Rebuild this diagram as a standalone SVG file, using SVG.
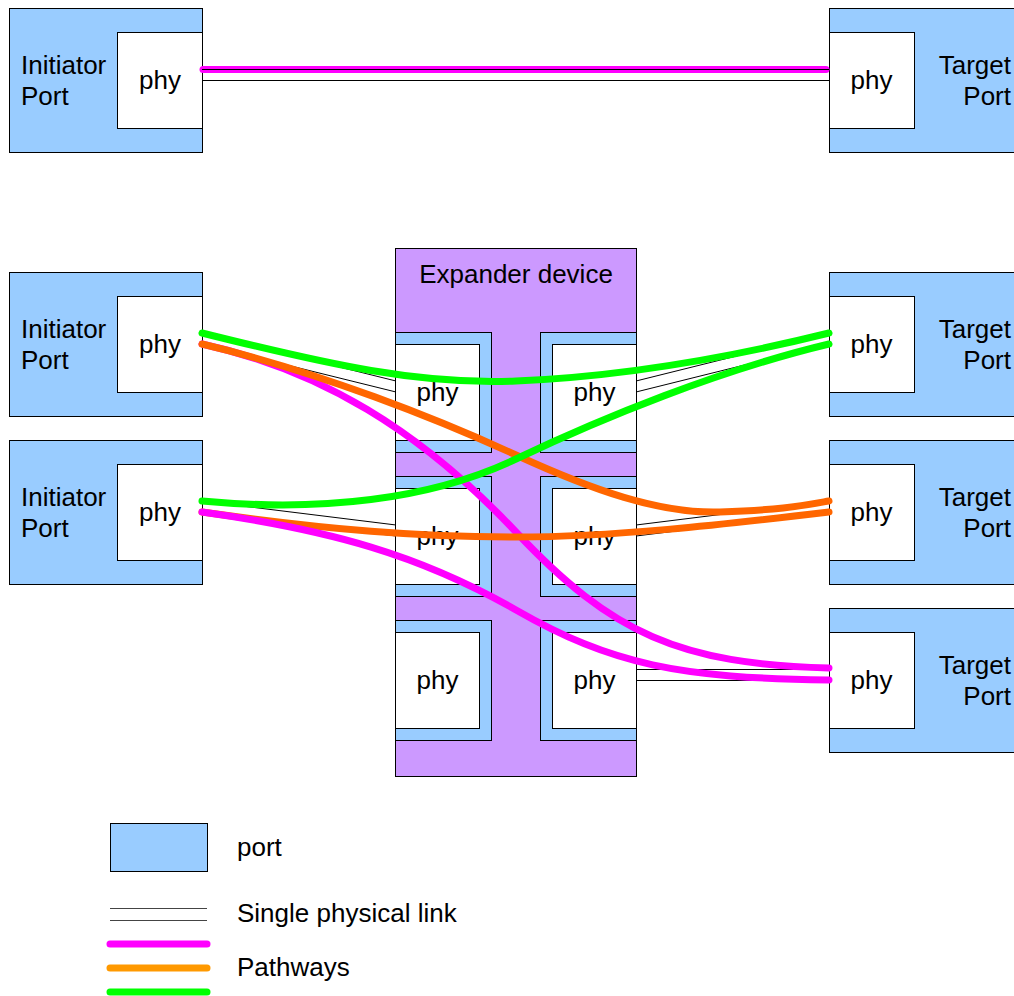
<svg xmlns="http://www.w3.org/2000/svg" width="1014" height="996" viewBox="0 0 1014 996">
  <style>
    .port { fill: #99CCFF; stroke: #000; stroke-width: 1; }
    .phy { fill: #FFFFFF; stroke: #000; stroke-width: 1; }
    .exp { fill: #CC99FF; stroke: #000; stroke-width: 1; }
    .lbl { font-family: "Liberation Sans", Arial, sans-serif; font-size: 26px; fill: #000; }
    .mid { text-anchor: middle; }
    .end { text-anchor: end; }
    .link { fill: none; stroke: #000; stroke-width: 1; }
    .path { fill: none; stroke-width: 7; stroke-linecap: round; }
    .mag { stroke: #FF00FF; }
    .org { stroke: #FF6600; }
    .grn { stroke: #00FF00; }
  </style>

  <!-- direct connection: initiator to target -->
  <g id="initiator-top">
    <rect class="port" x="9.5" y="8.5" width="193" height="144"/>
    <rect class="phy" x="117.5" y="32.5" width="85" height="96"/>
    <text class="lbl" x="21" y="73.5">Initiator</text>
    <text class="lbl" x="21" y="104.5">Port</text>
    <text class="lbl mid" x="160" y="89">phy</text>
  </g>
  <g id="target-top">
    <rect class="port" x="829.5" y="8.5" width="190" height="144"/>
    <rect class="phy" x="829.5" y="32.5" width="85" height="96"/>
    <text class="lbl end" x="1011" y="73.5">Target</text>
    <text class="lbl end" x="1011" y="104.5">Port</text>
    <text class="lbl mid" x="871.5" y="89">phy</text>
  </g>

  <!-- expanded topology -->
  <g id="initiator-1">
    <rect class="port" x="9.5" y="272.5" width="193" height="144"/>
    <rect class="phy" x="117.5" y="296.5" width="85" height="96"/>
    <text class="lbl" x="21" y="337.5">Initiator</text>
    <text class="lbl" x="21" y="368.5">Port</text>
    <text class="lbl mid" x="160" y="353">phy</text>
  </g>
  <g id="initiator-2">
    <rect class="port" x="9.5" y="440.5" width="193" height="144"/>
    <rect class="phy" x="117.5" y="464.5" width="85" height="96"/>
    <text class="lbl" x="21" y="505.5">Initiator</text>
    <text class="lbl" x="21" y="536.5">Port</text>
    <text class="lbl mid" x="160" y="521">phy</text>
  </g>

  <g id="target-1">
    <rect class="port" x="829.5" y="272.5" width="190" height="144"/>
    <rect class="phy" x="829.5" y="296.5" width="85" height="96"/>
    <text class="lbl end" x="1011" y="337.5">Target</text>
    <text class="lbl end" x="1011" y="368.5">Port</text>
    <text class="lbl mid" x="871.5" y="353">phy</text>
  </g>
  <g id="target-2">
    <rect class="port" x="829.5" y="440.5" width="190" height="144"/>
    <rect class="phy" x="829.5" y="464.5" width="85" height="96"/>
    <text class="lbl end" x="1011" y="505.5">Target</text>
    <text class="lbl end" x="1011" y="536.5">Port</text>
    <text class="lbl mid" x="871.5" y="521">phy</text>
  </g>
  <g id="target-3">
    <rect class="port" x="829.5" y="608.5" width="190" height="144"/>
    <rect class="phy" x="829.5" y="632.5" width="85" height="96"/>
    <text class="lbl end" x="1011" y="673.5">Target</text>
    <text class="lbl end" x="1011" y="704.5">Port</text>
    <text class="lbl mid" x="871.5" y="689">phy</text>
  </g>

  <g id="expander">
    <rect class="exp" x="395.5" y="248.5" width="241" height="528"/>
    <text class="lbl mid" x="516" y="283">Expander device</text>
    <!-- left column of expander phys -->
    <rect class="port" x="395.5" y="332.5" width="96" height="120"/>
    <rect class="phy" x="395.5" y="344.5" width="84" height="96"/>
    <text class="lbl mid" x="437.5" y="401">phy</text>
    <rect class="port" x="395.5" y="476.5" width="96" height="120"/>
    <rect class="phy" x="395.5" y="488.5" width="84" height="96"/>
    <text class="lbl mid" x="437.5" y="545">phy</text>
    <rect class="port" x="395.5" y="620.5" width="96" height="120"/>
    <rect class="phy" x="395.5" y="632.5" width="84" height="96"/>
    <text class="lbl mid" x="437.5" y="689">phy</text>
    <!-- right column of expander phys -->
    <rect class="port" x="540.5" y="332.5" width="96" height="120"/>
    <rect class="phy" x="552.5" y="344.5" width="84" height="96"/>
    <text class="lbl mid" x="594.5" y="401">phy</text>
    <rect class="port" x="540.5" y="476.5" width="96" height="120"/>
    <rect class="phy" x="552.5" y="488.5" width="84" height="96"/>
    <text class="lbl mid" x="594.5" y="545">phy</text>
    <rect class="port" x="540.5" y="620.5" width="96" height="120"/>
    <rect class="phy" x="552.5" y="632.5" width="84" height="96"/>
    <text class="lbl mid" x="594.5" y="689">phy</text>
  </g>

  <g id="connectors">
    <!-- direct pathway, with its physical link drawn over it -->
    <path class="path mag" d="M203,69.5 H826"/>
    <path class="link" d="M202,69.5 H829 M202,80.5 H829"/>

    <!-- physical links through the expander (pairs of thin lines) -->
    <path class="link" d="M202,333 L396,381 M202,344 L396,392"/>
    <path class="link" d="M202,501 L396,525 M202,512 L396,536"/>
    <path class="link" d="M636,381 L829,333 M636,392 L829,344"/>
    <path class="link" d="M636,525 L829,501 M636,536 L829,512"/>
    <path class="link" d="M636,669.5 H829 M636,680.5 H829"/>

    <!-- pathways -->
    <path class="path mag" d="M202,344 C320,370 420,430 516,532 S680,664 829,668"/>
    <path class="path org" d="M202,344 C320,372 440,420 516,455 S660,514 720,512 S800,506 829,501"/>
    <path class="path org" d="M202,512 C330,530 420,537 516,537 S720,525 829,512"/>
    <path class="path mag" d="M202,512 C330,530 420,555 516,610 S680,678 829,680"/>
    <path class="path grn" d="M202,333 C330,365 420,385 516,381 S720,360 829,333"/>
    <path class="path grn" d="M202,501 C320,512 430,500 516,459 S720,370 829,344"/>
  </g>

  <g id="legend">
    <rect class="port" x="110.5" y="823.5" width="97" height="48"/>
    <text class="lbl" x="237" y="856">port</text>
    <path d="M110,908.5 H207 M110,920.5 H207" fill="none" stroke="#444" stroke-width="1"/>
    <text class="lbl" x="237" y="922">Single physical link</text>
    <line class="path mag" x1="110" y1="944" x2="207" y2="944"/>
    <line class="path" stroke="#FF9900" x1="110" y1="968" x2="207" y2="968"/>
    <text class="lbl" x="237" y="976">Pathways</text>
    <line class="path grn" x1="110" y1="992" x2="207" y2="992"/>
  </g>
</svg>
